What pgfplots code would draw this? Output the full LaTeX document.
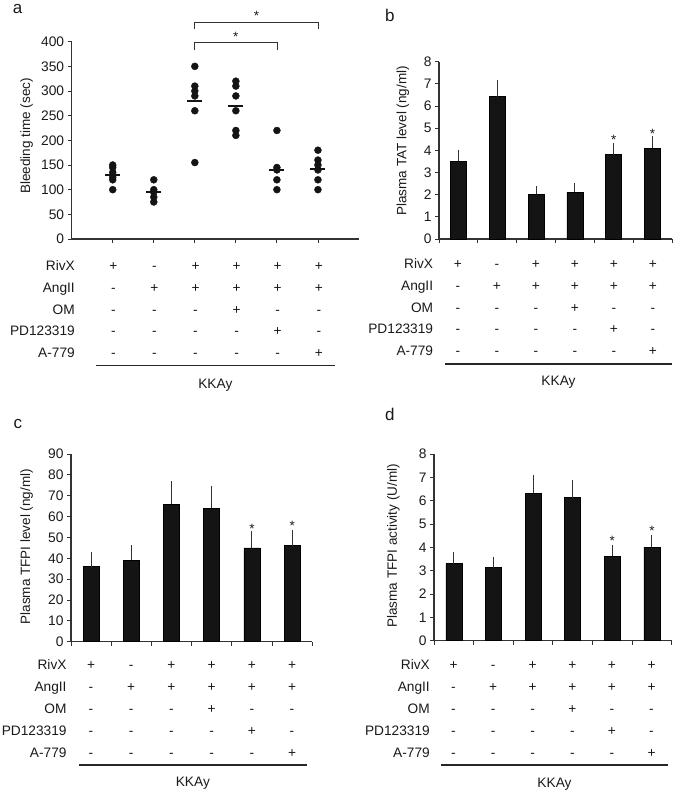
\documentclass[border=0pt]{standalone}
\usepackage{fontspec}
\setmainfont{Liberation Sans}
\usepackage{pgfplots}
\pgfplotsset{compat=1.18}
\definecolor{axgray}{HTML}{333333}
\definecolor{barblk}{HTML}{141414}
\definecolor{txt}{HTML}{1A1A1A}
\newcommand{\fs}[1]{\fontsize{#1}{#1}\selectfont}

\tikzset{sigstar/.style={font=\fs{13.5}, color=txt, anchor=base, yshift=-7.7pt, inner sep=0pt}}

\pgfplotsset{
  panel/.style={
    scale only axis, anchor=south west, axis lines=left,
    axis line style={-, line width=1.3pt, color=axgray},
    tick style={line width=0.9pt, color=axgray},
    major tick length=4pt, tick align=outside,
    ymin=0, clip=false,
    xticklabels={},
    tick label style={font=\fs{13.8}, color=txt},
    /pgf/number format/assume math mode=true,
    ylabel style={font=\fs{13.5}, color=txt, anchor=center},
  },
  barpanel/.style={panel, ybar, bar width=16pt, xmin=0.5, xmax=6.5,
    xtick={0.5,1.5,2.5,3.5,4.5,5.5,6.5}},
  bars/.style={fill=barblk, draw=black, line width=0.6pt,
    error bars/.cd, y dir=plus, y explicit,
    error bar style={line width=1pt, color=axgray},
    error mark options={line width=1pt, mark size=1.8pt, color=axgray}},
}

% #1 label right x, #2 col1 x, #3 dx, #4 row1 y, #5 dy, #6 line y, #7 x1, #8 x2, #9 KKAy y  (pixel coords, y down)
\newcommand{\signtable}[9]{%
  \begin{scope}[x=1pt, y=-1pt, yshift=792pt, font=\fs{13.7}, color=txt]
    \foreach \lab [count=\r from 0] in {RivX,AngII,OM,PD123319,A-779} {
      \node[anchor=base east, inner sep=0pt] at ({#1},{#4+\r*#5+4.9}) {\lab};
    }
    \foreach \signs [count=\r from 0] in {{+,-,+,+,+,+},{-,+,+,+,+,+},{-,-,-,+,-,-},{-,-,-,-,+,-},{-,-,-,-,-,+}} {
      \foreach \s [count=\c from 0] in \signs {
        \node[anchor=base, inner sep=0pt] at ({#2+\c*#3},{#4+\r*#5+4.9}) {\s};
      }
    }
    \draw[line width=1.4pt, color=black!85] ({#7},{#6}) -- ({#8},{#6});
    \node[anchor=base, inner sep=0pt] at ({(#7+#8)/2},{#9+4.9}) {KKAy};
  \end{scope}%
}

\begin{document}
\begin{tikzpicture}
\useasboundingbox (0,0) rectangle (675pt,792pt);

% panel letters
\node[anchor=base west, inner sep=0pt, font=\fs{17}, color=txt] at (12.7pt,{792pt-13.3pt}) {a};
\node[anchor=base west, inner sep=0pt, font=\fs{17}, color=txt] at (385pt,{792pt-21.7pt}) {b};
\node[anchor=base west, inner sep=0pt, font=\fs{17}, color=txt] at (13.3pt,{792pt-428.3pt}) {c};
\node[anchor=base west, inner sep=0pt, font=\fs{17}, color=txt] at (385pt,{792pt-420.7pt}) {d};

% ---------- panel a ----------
\begin{axis}[panel, at={(71.7pt,553pt)}, width=287.3pt, height=197.3pt,
  xmin=0, xmax=7, ymax=400, xtick={1,2,3,4,5,6}, ytick={0,50,...,400},
  ylabel={Bleeding time (sec)},
  ylabel style={at={(axis description cs:-0.157,0.523)}}]
\addplot[only marks, mark=*, mark size=3.5pt, color=barblk] coordinates {
  (1,150) (1,145) (1,135) (1,125) (1,120) (1,100)
  (2,120) (2,100) (2,95) (2,85) (2,75)
  (3,350) (3,310) (3,300) (3,290) (3,260) (3,155)
  (4,320) (4,310) (4,290) (4,260) (4,220) (4,210)
  (5,220) (5,145) (5,140) (5,120) (5,100)
  (6,180) (6,160) (6,150) (6,140) (6,120) (6,100)
};
\addplot[only marks, mark=-, mark size=7.5pt, mark options={line width=2pt}, color=barblk] coordinates {
  (1,130) (2,96) (3,279) (4,270) (5,140) (6,141)
};
\draw[line width=0.8pt, color=axgray] (axis cs:3,426) -- (axis cs:3,440) -- (axis cs:6,440) -- (axis cs:6,426);
\draw[line width=0.8pt, color=axgray] (axis cs:3,384) -- (axis cs:3,398) -- (axis cs:5,398) -- (axis cs:5,384);
\node[sigstar] at (axis cs:4.5,458) {*};
\node[sigstar] at (axis cs:4,417) {*};
\end{axis}

% ---------- panel b ----------
\begin{axis}[barpanel, at={(439pt,553pt)}, width=233pt, height=177.3pt,
  ymax=8, ytick={0,1,...,8},
  ylabel={Plasma TAT level (ng/ml)},
  ylabel style={at={(axis description cs:-0.1545,0.554)}}]
\addplot[bars] coordinates {
  (1,3.5) +- (0,0.45)
  (2,6.42) +- (0,0.68)
  (3,2.01) +- (0,0.28)
  (4,2.1) +- (0,0.33)
  (5,3.8) +- (0,0.44)
  (6,4.1) +- (0,0.47)
};
\node[sigstar] at (axis cs:5,4.62) {*};
\node[sigstar] at (axis cs:6,4.87) {*};
\end{axis}

% ---------- panel c ----------
\begin{axis}[barpanel, at={(71pt,150.3pt)}, width=241.3pt, height=187.7pt,
  ymax=90, ytick={0,10,...,90},
  ylabel={Plasma TFPI level (ng/ml)},
  ylabel style={at={(axis description cs:-0.1836,0.506)}}]
\addplot[bars] coordinates {
  (1,36) +- (0,6)
  (2,39) +- (0,6.4)
  (3,66) +- (0,10)
  (4,64) +- (0,10)
  (5,45) +- (0,7)
  (6,46) +- (0,6.8)
};
\node[sigstar] at (axis cs:5,55.5) {*};
\node[sigstar] at (axis cs:6,57.1) {*};
\end{axis}

% ---------- panel d ----------
\begin{axis}[barpanel, at={(434pt,151.3pt)}, width=237.7pt, height=186.7pt,
  ymax=8, ytick={0,1,...,8},
  ylabel={Plasma TFPI activity (U/ml)},
  ylabel style={at={(axis description cs:-0.171,0.508)}}]
\addplot[bars] coordinates {
  (1,3.3) +- (0,0.43)
  (2,3.13) +- (0,0.4)
  (3,6.31) +- (0,0.7)
  (4,6.13) +- (0,0.7)
  (5,3.61) +- (0,0.43)
  (6,4.01) +- (0,0.43)
};
\node[sigstar] at (axis cs:5,4.41) {*};
\node[sigstar] at (axis cs:6,4.84) {*};
\end{axis}

% ---------- sign tables ----------
\signtable{75}{113.3}{41.1}{265.7}{21.75}{365.7}{95.7}{335}{383.3}
\signtable{433.3}{457.8}{39}{264}{21.7}{364}{445}{672}{380.7}
\signtable{66.7}{91}{40.2}{664.3}{22}{765}{79}{306.7}{781.7}
\signtable{430}{453.5}{39.6}{664.3}{22}{765}{441}{668}{782.7}

\end{tikzpicture}
\end{document}
